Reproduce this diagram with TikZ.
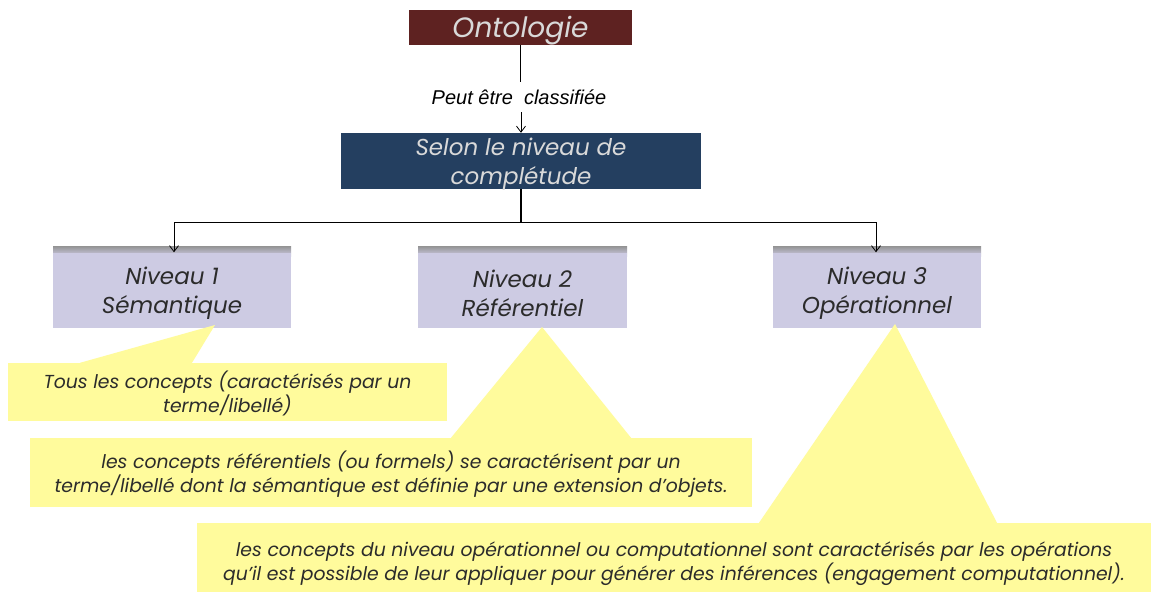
\documentclass[tikz,border=0pt]{standalone}
\usepackage{fontspec}
\setmainfont{Poppins}
\newfontfamily\arialf{Liberation Sans}
\usetikzlibrary{arrows.meta}
\definecolor{ontored}{HTML}{5E2221}
\definecolor{selonblue}{HTML}{243F60}
\definecolor{lav}{HTML}{CDCBE3}
\definecolor{callyel}{HTML}{FFFB9C}
\definecolor{txtgray}{HTML}{2B2B2B}
\tikzset{
  x=1pt,y=-1pt,
  conn/.style={draw=black,line width=0.9pt},
  arr/.style={conn,-{Straight Barb[length=6pt,width=9pt,line width=0.8pt]}},
  topbox/.style={fill=#1,inner sep=0pt},
  toptext/.style={inner sep=0pt,align=center,text=white!85!black,font=\itshape\fontsize{23}{29}\selectfont},
  lvl/.style={fill=lav,inner sep=0pt,minimum height=75pt},
  lvltext/.style={inner sep=0pt,align=center,text=txtgray,font=\itshape\fontsize{23}{29}\selectfont},
  callout/.style={fill=callyel,inner sep=0pt},
  calltext/.style={inner sep=0pt,align=center,text=txtgray,font=\itshape\fontsize{18.8}{23.5}\selectfont},
  ptr/.style={fill=callyel,draw=none}
}
\begin{document}
\begin{tikzpicture}
\useasboundingbox (0,0) rectangle (1151,592);
\fill[white] (0,0) rectangle (1151,592);
% top boxes
\node[topbox=ontored,minimum width=223pt,minimum height=35pt] (onto) at (520.5,27.5) {};
\node[toptext,font=\itshape\fontsize{28}{32}\selectfont] (ontot) at ([yshift=-3pt]onto.center) {Ontologie};
\node[font=\arialf\itshape\fontsize{20}{24}\selectfont,inner sep=0pt,minimum height=30pt] (peut) at (519,97) {Peut être\ \ classifiée};
\node[topbox=selonblue,minimum width=360pt,minimum height=56pt] (selon) at (521,161) {};
\node[toptext] (selont) at ([yshift=-3.5pt]selon.center) {Selon le niveau de\\complétude};
% level boxes with top shadow
\foreach \cx/\w in {172/238,522.5/209,877/208}{
  \shade[top color=gray!85,bottom color=lav] (\cx-\w/2,246) rectangle (\cx+\w/2,256);
}
\node[lvl,minimum width=238pt] (n1) at (172,290) {};
\node[lvl,minimum width=209pt] (n2) at (522.5,290) {};
\node[lvl,minimum width=208pt] (n3) at (877,290) {};
\node[lvltext] (n1t) at ([yshift=-3.5pt]n1.center) {Niveau 1\\Sémantique};
\node[lvltext] (n2t) at ([yshift=-3.5pt]n2.center) {Niveau 2\\Référentiel};
\node[lvltext] (n3t) at ([yshift=-3.5pt]n3.center) {Niveau 3\\Opérationnel};
% connectors
\draw[conn] (onto.south) -- (onto.south |- peut.north);
\draw[arr] (selon.north |- peut.south) -- (selon.north);
\coordinate (j) at (521,222);
\draw[conn,line width=1.8pt] (selon.south) -- (j);
\coordinate (jl) at (174,222);
\coordinate (jr) at (876,222);
\draw[conn] (jl) -- (jr);
\draw[arr] (jl) -- (jl |- n1.north);
\draw[arr] (jr) -- (jr |- n3.north);
% callouts
\node[callout,minimum width=439pt,minimum height=58pt] (c1) at (227.5,392) {};
\node[callout,minimum width=722pt,minimum height=69pt] (c2) at (391,472.5) {};
\node[callout,minimum width=954pt,minimum height=69pt] (c3) at (674,557.5) {};
\fill[ptr] (215,325) -- ([xshift=-147.5pt]c1.north) -- ([xshift=-35.5pt]c1.north) -- cycle;
\fill[ptr] (542,327) -- ([xshift=60pt]c2.north) -- ([xshift=240pt]c2.north) -- cycle;
\fill[ptr] (895,324) -- ([xshift=85pt]c3.north) -- ([xshift=323pt]c3.north) -- cycle;
\node[calltext] (c1t) at ([yshift=-1.5pt]c1.center) {Tous les concepts (caractérisés par un\\terme/libellé)};
\node[calltext] (c2t) at ([yshift=-1.5pt]c2.center) {les concepts référentiels (ou formels) se caractérisent par un\\terme/libellé dont la sémantique est définie par une extension d’objets.};
\node[calltext] (c3t) at ([yshift=-6pt]c3.center) {les concepts du niveau opérationnel ou computationnel sont caractérisés par les opérations\\qu’il est possible de leur appliquer pour générer des inférences (engagement computationnel).};
\end{tikzpicture}
\end{document}
